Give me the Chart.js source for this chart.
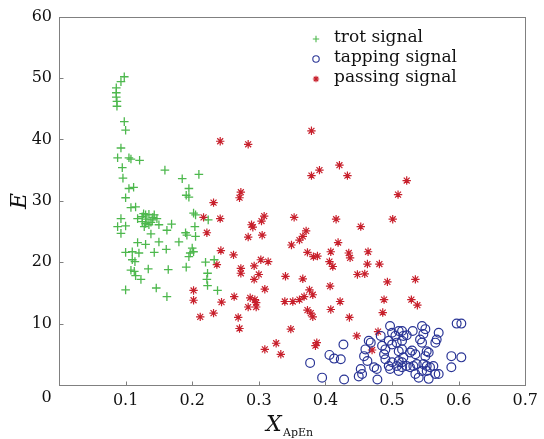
<!DOCTYPE html>
<html>
<head>
<meta charset="utf-8">
<script src="https://cdn.jsdelivr.net/npm/chart.js@4/dist/chart.umd.min.js"></script>
<style>
html,body{margin:0;padding:0;background:#fff;}
#wrap{width:544px;height:439px;position:relative;}
</style>
</head>
<body>
<div id="wrap"><canvas id="c"></canvas></div>
<script>
// ---- data ----
const seriesNames = ['trot signal', 'tapping signal', 'passing signal'];

const trotX = [0.098,0.093,0.086,0.086,0.086,0.087,0.087,0.098,0.100,0.093,
  0.088,0.105,0.108,0.121,0.095,0.159,0.096,0.185,0.210,0.105,
  0.112,0.195,0.191,0.195,0.100,0.108,0.115,0.202,0.205,0.093,
  0.118,0.125,0.130,0.135,0.143,0.147,0.125,0.130,0.128,0.135,
  0.140,0.150,0.088,0.100,0.093,0.169,0.162,0.204,0.190,0.192,
  0.138,0.205,0.150,0.180,0.118,0.130,0.200,0.202,0.197,0.161,
  0.100,0.110,0.120,0.143,0.110,0.114,0.220,0.233,0.108,0.113,
  0.134,0.164,0.191,0.115,0.123,0.223,0.222,0.223,0.100,0.146,
  0.162,0.224,0.195,0.238,0.132,0.138,0.127,0.141];
const trotY = [50.2,49.4,48.4,47.6,46.9,46.2,45.4,42.9,41.5,38.6,
  37.0,37.0,36.8,36.6,35.4,35.0,33.7,33.6,34.3,32.0,
  32.2,32.0,30.9,30.6,30.5,28.9,29.0,28.0,27.7,27.1,
  27.1,27.4,27.7,27.8,27.7,27.1,26.6,26.3,25.8,26.1,
  26.9,26.1,25.8,25.9,24.7,26.2,25.2,25.8,24.8,24.4,
  24.6,24.2,23.3,23.3,23.2,22.9,22.3,21.7,21.5,22.1,
  21.6,21.7,21.5,21.6,20.4,20.1,20.0,20.4,18.7,18.5,
  18.9,18.8,19.2,17.8,17.2,18.2,17.2,16.2,15.5,15.8,
  14.4,26.9,20.9,15.4,27.0,26.5,27.9,27.3];

const tapX = [0.427,0.406,0.413,0.423,0.428,0.453,0.450,0.455,0.458,0.460,
  0.465,0.468,0.463,0.473,0.477,0.478,0.483,0.485,0.490,0.488,
  0.490,0.497,0.500,0.505,0.510,0.507,0.500,0.495,0.495,0.497,
  0.500,0.510,0.515,0.517,0.510,0.515,0.515,0.517,0.522,0.507,
  0.510,0.515,0.527,0.530,0.535,0.531,0.522,0.527,0.532,0.537,
  0.535,0.540,0.545,0.550,0.547,0.542,0.545,0.552,0.555,0.550,
  0.547,0.552,0.557,0.562,0.555,0.545,0.552,0.565,0.570,0.565,
  0.567,0.570,0.589,0.604,0.589,0.597,0.604,0.515,0.395,0.377];
const tapY = [6.6,4.9,4.3,4.2,0.9,2.6,1.4,1.8,4.7,5.8,
  7.2,6.9,3.9,2.9,2.6,0.9,8.0,6.4,5.8,5.0,
  4.2,9.6,8.5,8.0,8.8,6.9,6.6,7.2,3.1,2.6,
  3.7,3.9,3.7,4.5,5.5,5.8,8.8,8.0,8.1,3.1,
  2.3,2.9,5.3,5.6,5.0,8.8,3.1,2.9,3.1,3.4,
  1.8,1.2,9.6,9.1,8.3,7.4,6.9,5.5,5.3,4.7,
  3.4,3.1,2.9,3.1,1.0,2.3,2.3,1.8,1.8,6.9,
  7.4,8.5,4.7,4.5,2.9,10.0,10.0,7.2,1.2,3.6];

const passX = [0.379,0.242,0.284,0.421,0.391,0.379,0.433,0.273,0.271,0.232,
  0.217,0.242,0.308,0.304,0.353,0.416,0.289,0.291,0.222,0.305,
  0.284,0.371,0.366,0.361,0.349,0.419,0.243,0.262,0.373,0.382,
  0.388,0.408,0.435,0.437,0.237,0.303,0.314,0.293,0.406,0.411,
  0.273,0.273,0.300,0.293,0.340,0.366,0.407,0.309,0.376,0.381,
  0.263,0.287,0.294,0.296,0.368,0.361,0.351,0.339,0.202,0.244,
  0.422,0.284,0.296,0.212,0.232,0.269,0.373,0.378,0.381,0.408,
  0.436,0.271,0.348,0.387,0.385,0.326,0.309,0.333,0.202,0.522,
  0.509,0.501,0.453,0.464,0.463,0.481,0.448,0.459,0.535,0.493,
  0.488,0.529,0.538,0.486,0.447,0.479,0.470];
const passY = [41.4,39.7,39.2,35.8,35.0,34.1,34.1,31.4,30.5,29.7,
  27.3,27.1,27.5,26.7,27.3,27.0,26.1,25.7,24.8,24.4,
  24.1,25.1,24.2,23.6,22.8,23.2,21.9,21.2,21.6,20.9,
  21.0,21.7,21.5,20.7,19.6,20.4,20.1,19.4,20.1,19.3,
  19.0,18.2,18.0,17.2,17.7,17.3,16.1,15.6,15.5,14.7,
  14.4,14.2,13.9,13.4,14.4,13.9,13.6,13.6,13.8,13.5,
  13.6,12.7,12.7,11.1,11.7,11.0,12.2,11.7,11.1,12.3,
  11.0,9.2,9.1,6.9,6.4,6.8,5.8,5.0,15.4,33.3,
  31.0,27.0,25.8,21.7,19.7,19.7,18.0,18.1,17.2,16.8,
  13.9,13.9,13.0,11.8,8.0,8.7,5.7];

const xTickLabels = ['0','0.1','0.2','0.3','0.4','0.5','0.6','0.7'];
const yTickLabels = ['','10','20','30','40','50','60'];
const xTickMarks = [0.1,0.2,0.3,0.4,0.5,0.6];
const yTickMarks = [10,20,30,40,50];

// ---- styles ----
const cGreen = '#4db84d';
const cBlue = '#2a3596';
const cRed = '#c8202c';
const serif = 'DejaVu Serif';

function pts(xs, ys){ return xs.map((v,i)=>({x:v, y:ys[i]})); }

const decor = {
  id: 'decor',
  afterDraw(chart){
    const {ctx, chartArea:a, scales:{x, y}} = chart;
    ctx.save();
    // frame
    ctx.strokeStyle = '#808080';
    ctx.lineWidth = 1;
    const L = Math.round(a.left)+0.5, T = Math.round(a.top)+0.5,
          R = Math.round(a.right)+0.5, B = Math.round(a.bottom)+0.5;
    ctx.strokeRect(L, T, R-L, B-T);
    // inward ticks
    ctx.beginPath();
    xTickMarks.forEach(v=>{
      const px = Math.round(x.getPixelForValue(v))+0.5;
      ctx.moveTo(px, B); ctx.lineTo(px, B-4);
    });
    yTickMarks.forEach(v=>{
      const py = Math.round(y.getPixelForValue(v))+0.5;
      ctx.moveTo(L, py); ctx.lineTo(L+4, py);
    });
    ctx.stroke();

    // origin "0" label
    ctx.fillStyle = '#111';
    ctx.font = '16px "' + serif + '"';
    ctx.textAlign = 'center';
    ctx.textBaseline = 'middle';
    ctx.fillText(xTickLabels[0], x.getPixelForValue(0) - 12.5, 398);

    // x title: X with subscript ApEn
    ctx.textAlign = 'left';
    ctx.textBaseline = 'alphabetic';
    ctx.font = 'italic 22px "' + serif + '"';
    ctx.fillText('X', 266, 431);
    ctx.font = '11px "' + serif + '"';
    ctx.fillText('ApEn', 283, 436);

    // y title E
    ctx.save();
    ctx.translate(26, 201);
    ctx.rotate(-Math.PI/2);
    ctx.font = 'italic 22px "' + serif + '"';
    ctx.textAlign = 'center';
    ctx.fillText('E', 0, 0);
    ctx.restore();

    // legend
    const rows = [39, 59, 79];
    chart.data.datasets.forEach((ds, i)=>{
      const cy = rows[i];
      ctx.save();
      ctx.strokeStyle = ds.borderColor;
      ctx.fillStyle = 'rgba(0,0,0,0)';
      ctx.lineWidth = 1.1;
      Chart.helpers.drawPoint(ctx, {pointStyle: ds.pointStyle, radius: 3.2, rotation: 0, borderWidth: 1.1}, 316, cy);
      ctx.restore();
      ctx.fillStyle = '#111';
      ctx.font = '17px "' + serif + '"';
      ctx.textAlign = 'left';
      ctx.textBaseline = 'middle';
      ctx.fillText(ds.label, 334, cy - 1);
    });
    ctx.restore();
  }
};

new Chart(document.getElementById('c'), {
  type: 'scatter',
  data: {
    datasets: [
      { label: seriesNames[0], data: pts(trotX, trotY), pointStyle: 'cross',
        borderColor: cGreen, backgroundColor: cGreen, pointRadius: 4.3, borderWidth: 1.3 },
      { label: seriesNames[1], data: pts(tapX, tapY), pointStyle: 'circle',
        borderColor: cBlue, backgroundColor: 'rgba(0,0,0,0)', pointRadius: 4.4, borderWidth: 1.2 },
      { label: seriesNames[2], data: pts(passX, passY), pointStyle: 'star',
        borderColor: cRed, backgroundColor: cRed, pointRadius: 4.2, borderWidth: 1.2 }
    ]
  },
  options: {
    responsive: true,
    maintainAspectRatio: false,
    animation: false,
    layout: { padding: { left: 0, top: 15, right: 15, bottom: 0 } },
    plugins: { legend: { display: false }, tooltip: { enabled: false } },
    scales: {
      x: {
        type: 'linear', min: 0, max: 0.7,
        grid: { display: false, drawTicks: false },
        border: { display: false },
        afterFit: s => { s.height = 54; },
        ticks: {
          stepSize: 0.1, padding: 6, color: '#111', maxRotation: 0,
          font: { family: serif, size: 16 },
          callback: (v, i) => i === 0 ? '' : xTickLabels[i]
        }
      },
      y: {
        type: 'linear', min: 0, max: 60,
        grid: { display: false, drawTicks: false },
        border: { display: false },
        afterFit: s => { s.width = 59; },
        ticks: {
          stepSize: 10, padding: 7, color: '#111',
          font: { family: serif, size: 16 },
          callback: (v, i) => yTickLabels[i]
        }
      }
    }
  },
  plugins: [decor]
});
</script>
</body>
</html>
